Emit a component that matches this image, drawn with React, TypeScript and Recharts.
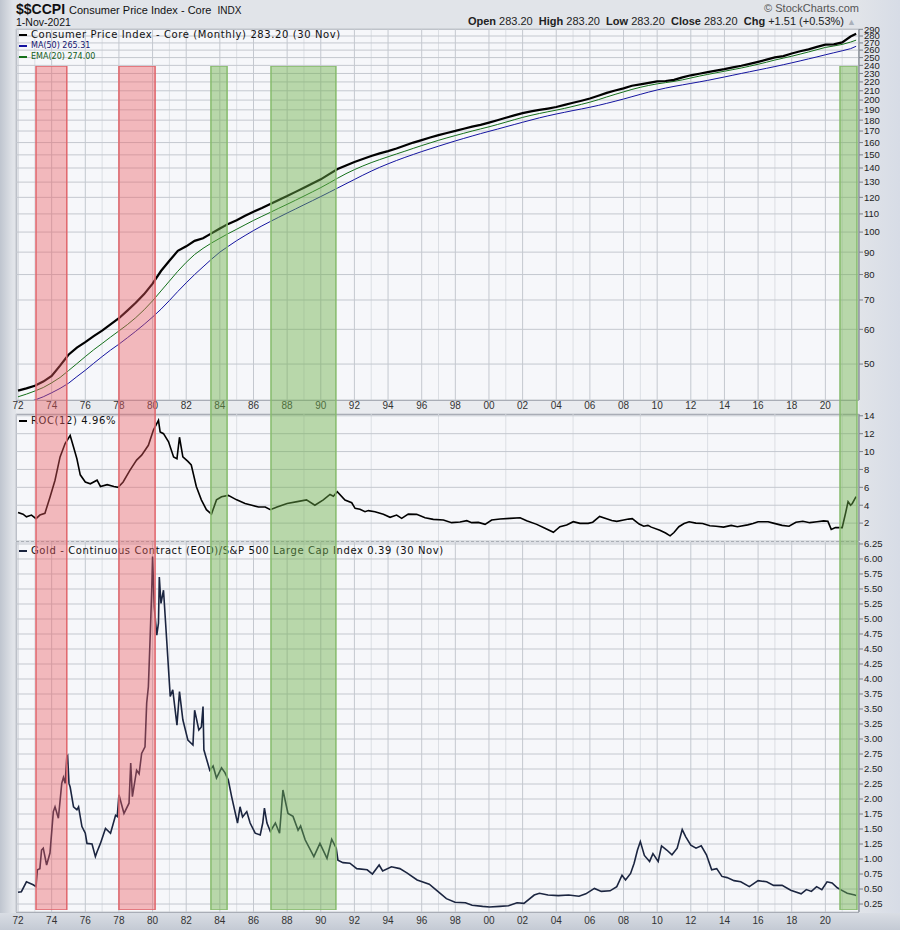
import React from 'react';
import {
  LineChart,
  Line,
  XAxis,
  YAxis,
  CartesianGrid,
  ReferenceArea,
} from 'recharts';

// ---- data read off the chart -------------------------------------------

// semi-annual points (Jan / Jul) for the core CPI panel
const cpiYears = [
  1972, 1972.5, 1973, 1973.5, 1974, 1974.5, 1975, 1975.5, 1976, 1976.5,
  1977, 1977.5, 1978, 1978.5, 1979, 1979.5, 1980, 1980.5, 1981, 1981.5,
  1982, 1982.5, 1983, 1983.5, 1984, 1984.5, 1985, 1985.5, 1986, 1986.5,
  1987, 1987.5, 1988, 1988.5, 1989, 1989.5, 1990, 1990.5, 1991, 1991.5,
  1992, 1992.5, 1993, 1993.5, 1994, 1994.5, 1995, 1995.5, 1996, 1996.5,
  1997, 1997.5, 1998, 1998.5, 1999, 1999.5, 2000, 2000.5, 2001, 2001.5,
  2002, 2002.5, 2003, 2003.5, 2004, 2004.5, 2005, 2005.5, 2006, 2006.5,
  2007, 2007.5, 2008, 2008.5, 2009, 2009.5, 2010, 2010.5, 2011, 2011.5,
  2012, 2012.5, 2013, 2013.5, 2014, 2014.5, 2015, 2015.5, 2016, 2016.5,
  2017, 2017.5, 2018, 2018.5, 2019, 2019.5, 2020, 2020.5, 2021, 2021.5,
  2021.83,
];

const cpiValues = [
  43.5, 44.0, 44.6, 45.6, 47.0, 49.6, 52.5, 54.5, 56.1, 57.9,
  59.6, 61.6, 63.6, 66.2, 69.0, 72.2, 76.3, 81.5, 86.0, 90.6,
  92.8, 95.5, 96.8, 99.3, 101.9, 104.4, 106.4, 108.9, 111.3, 113.5,
  115.9, 118.4, 120.8, 123.5, 126.2, 129.1, 131.9, 135.6, 139.2, 141.9,
  144.5, 146.8, 149.1, 151.2, 153.0, 155.1, 157.5, 160.0, 162.1, 164.3,
  166.4, 168.3, 170.1, 172.1, 174.0, 175.6, 177.7, 179.9, 182.3, 184.6,
  186.8, 188.5, 189.9, 191.3, 192.9, 195.0, 197.2, 199.3, 201.6, 204.6,
  207.7, 210.3, 212.7, 215.6, 217.2, 219.0, 220.6, 221.1, 222.4, 225.3,
  227.8, 229.7, 231.7, 233.5, 235.3, 237.5, 239.5, 241.9, 244.5, 247.3,
  250.3, 252.0, 255.4, 258.4, 261.1, 264.4, 267.5, 268.0, 270.8, 279.3,
  283.2,
];

const ma50Values = [
  40.2, 40.8, 41.4, 42.1, 43.0, 44.0, 45.2, 46.8, 48.4, 50.2,
  52.0, 53.8, 55.5, 57.4, 59.4, 61.6, 64.0, 66.7, 69.8, 73.2,
  76.6, 80.0, 83.3, 86.7, 90.0, 92.8, 95.6, 98.2, 100.8, 103.3,
  105.7, 108.1, 110.5, 112.9, 115.4, 117.9, 120.5, 123.2, 126.0, 128.9,
  131.8, 134.8, 137.7, 140.5, 143.1, 145.6, 148.0, 150.3, 152.6, 154.8,
  157.0, 159.2, 161.4, 163.5, 165.6, 167.7, 169.7, 171.7, 173.8, 175.9,
  178.0, 180.1, 182.2, 184.1, 185.9, 187.6, 189.3, 190.9, 192.6, 194.5,
  196.6, 198.8, 201.1, 203.6, 206.1, 208.6, 210.9, 213.0, 214.9, 216.6,
  218.3, 220.0, 221.8, 223.8, 225.8, 227.9, 230.0, 232.1, 234.2, 236.3,
  238.5, 240.8, 243.2, 245.7, 248.3, 250.9, 253.7, 256.4, 259.1, 262.0,
  265.3,
];

const ema20Values = [
  42.1, 42.7, 43.4, 44.2, 45.3, 46.6, 48.3, 50.1, 52.0, 53.9,
  55.7, 57.6, 59.5, 61.5, 63.8, 66.5, 69.7, 73.4, 77.3, 81.4,
  85.3, 88.9, 91.8, 94.4, 96.8, 99.2, 101.5, 103.9, 106.3, 108.6,
  110.9, 113.3, 115.7, 118.2, 120.8, 123.5, 126.3, 129.4, 132.7, 135.9,
  138.8, 141.5, 144.0, 146.3, 148.5, 150.7, 152.9, 155.2, 157.5, 159.7,
  161.9, 164.0, 166.0, 168.0, 170.0, 171.9, 173.8, 175.9, 178.1, 180.4,
  182.6, 184.6, 186.4, 188.1, 189.7, 191.5, 193.5, 195.6, 197.8, 200.4,
  203.3, 206.1, 208.8, 211.5, 213.9, 216.0, 217.8, 219.2, 220.6, 222.4,
  224.6, 226.8, 228.8, 230.8, 232.7, 234.7, 236.7, 239.0, 241.4, 244.0,
  246.8, 249.3, 251.8, 254.6, 257.5, 260.6, 263.7, 265.7, 267.9, 271.2,
  274.0,
];

// ROC(12) of core CPI, %
const rocYears = [
  1972.0, 1972.3, 1972.5, 1972.8, 1973.07, 1973.3, 1973.6, 1973.9, 1974.2, 1974.5,
  1974.8, 1975.1, 1975.3, 1975.5, 1975.7, 1976.0, 1976.3, 1976.7, 1976.9, 1977.3,
  1977.7, 1977.95, 1978.25, 1978.65, 1979.05, 1979.35, 1979.75, 1980.05, 1980.35, 1980.45,
  1980.65, 1980.95, 1981.25, 1981.45, 1981.6, 1981.8, 1982.1, 1982.3, 1982.6, 1982.9,
  1983.2, 1983.5, 1983.8, 1984.1, 1984.5, 1985.0, 1985.5, 1985.9, 1986.3, 1986.7,
  1987.0, 1987.4, 1988.0, 1988.6, 1989.15, 1989.65, 1990.15, 1990.55, 1990.75, 1990.98,
  1991.44, 1991.84, 1992.04, 1992.33, 1992.63, 1992.83, 1993.22, 1993.72, 1994.12, 1994.51,
  1994.81, 1995.2, 1995.7, 1996.2, 1996.69, 1997.29, 1997.78, 1998.28, 1998.68, 1998.97,
  1999.37, 1999.77, 2000.16, 2000.66, 2001.25, 2001.85, 2002.24, 2002.84, 2003.33, 2003.83,
  2004.22, 2004.62, 2005.01, 2005.41, 2005.9, 2006.17, 2006.58, 2006.99, 2007.3, 2007.6,
  2008.01, 2008.3, 2008.52, 2008.93, 2009.2, 2009.45, 2009.65, 2010.16, 2010.5, 2010.77,
  2011.0, 2011.29, 2011.6, 2011.9, 2012.3, 2012.7, 2013.13, 2013.5, 2013.95, 2014.4,
  2014.77, 2015.38, 2015.7, 2016.0, 2016.6, 2016.9, 2017.43, 2017.84, 2018.25, 2018.66,
  2019.07, 2019.5, 2019.9, 2020.15, 2020.35, 2020.6, 2021.0, 2021.2, 2021.35, 2021.5,
  2021.6, 2021.75, 2021.83,
];

const rocValues = [
  3.2, 3.0, 2.7, 2.9, 2.5, 2.9, 3.1, 4.9, 6.8, 9.4,
  10.9, 11.8, 10.5, 9.2, 7.4, 6.6, 6.4, 6.8, 6.1, 6.3,
  6.1, 6.0, 6.6, 7.9, 9.05, 9.6, 10.7, 12.4, 13.5, 12.2,
  12.0, 11.1, 9.4, 9.2, 11.6, 9.4, 8.9, 8.5, 6.1, 4.6,
  3.5, 3.0, 4.6, 4.95, 5.1, 4.6, 4.2, 4.0, 3.8, 3.8,
  3.5, 3.8, 4.2, 4.4, 4.6, 4.0, 4.6, 5.2, 5.0, 5.5,
  4.58, 4.28, 3.65, 3.54, 3.28, 3.4, 3.28, 2.98, 2.65, 2.9,
  2.53, 3.0, 2.98, 2.6, 2.42, 2.35, 2.05, 2.12, 2.27, 2.05,
  2.08, 1.86, 2.35, 2.46, 2.53, 2.6, 2.27, 1.86, 1.42, 0.97,
  1.6, 1.79, 2.16, 1.97, 1.97, 2.1, 2.75, 2.5, 2.3, 2.2,
  2.35, 2.45, 2.5, 1.9, 1.65, 1.75, 1.55, 1.2, 0.9, 0.58,
  0.95, 1.6, 1.95, 2.15, 2.0, 1.95, 1.7, 1.65, 1.55, 1.75,
  1.6, 1.8, 1.95, 2.15, 2.15, 2.0, 1.75, 1.65, 2.1, 2.2,
  2.05, 2.15, 2.25, 2.2, 1.3, 1.5, 1.5, 3.1, 4.4, 4.0,
  4.2, 4.7, 4.96,
];

// Gold / S&P 500 ratio
const ratioYears = [
  1972.0, 1972.2, 1972.5, 1972.9, 1973.07, 1973.15, 1973.3, 1973.4, 1973.5, 1973.7,
  1973.9, 1974.1, 1974.2, 1974.4, 1974.6, 1974.7, 1974.8, 1974.9, 1974.95, 1975.03,
  1975.1, 1975.3, 1975.5, 1975.6, 1975.8, 1976.0, 1976.1, 1976.4, 1976.6, 1976.7,
  1976.9, 1977.2, 1977.5, 1977.8, 1977.9, 1978.0, 1978.3, 1978.6, 1978.7, 1978.8,
  1979.05, 1979.2, 1979.35, 1979.55, 1979.65, 1979.75, 1979.85, 1979.95, 1980.0, 1980.1,
  1980.25, 1980.35, 1980.4, 1980.5, 1980.65, 1980.85, 1981.05, 1981.2, 1981.45, 1981.6,
  1981.8, 1982.1, 1982.4, 1982.5, 1982.75, 1982.9, 1983.0, 1983.05, 1983.4, 1983.6,
  1983.8, 1984.1, 1984.3, 1984.5, 1984.7, 1985.05, 1985.2, 1985.35, 1985.6, 1985.8,
  1986.1, 1986.4, 1986.55, 1986.65, 1986.8, 1987.0, 1987.3, 1987.55, 1987.75, 1988.05,
  1988.35, 1988.65, 1988.8, 1989.07, 1989.59, 1989.95, 1990.37, 1990.65, 1990.92, 1991.02,
  1991.32, 1991.73, 1992.14, 1992.76, 1993.07, 1993.47, 1993.68, 1994.2, 1994.7, 1995.12,
  1995.73, 1996.45, 1996.96, 1997.47, 1997.98, 1998.6, 1999.0, 1999.62, 2000.03, 2000.64,
  2001.16, 2001.67, 2002.08, 2002.69, 2003.0, 2003.51, 2004.12, 2004.74, 2005.35, 2005.76,
  2006.27, 2006.68, 2007.2, 2007.6, 2007.91, 2008.12, 2008.42, 2008.63, 2008.83, 2009.0,
  2009.24, 2009.55, 2009.75, 2010.06, 2010.26, 2010.57, 2010.88, 2011.19, 2011.49, 2011.7,
  2012.0, 2012.31, 2012.62, 2012.93, 2013.24, 2013.54, 2013.85, 2014.16, 2014.57, 2014.97,
  2015.48, 2016.0, 2016.51, 2016.92, 2017.43, 2017.94, 2018.56, 2018.87, 2019.17, 2019.48,
  2019.79, 2020.1, 2020.4, 2020.71, 2020.9, 2021.3, 2021.75, 2021.83,
];

const ratioValues = [
  0.445, 0.455, 0.62, 0.57, 0.54, 0.82, 0.84, 1.15, 1.18, 0.9,
  1.1, 1.79, 1.87, 1.68, 2.26, 2.36, 2.26, 2.7, 2.72, 2.26,
  2.2, 1.87, 1.82, 1.87, 1.54, 1.43, 1.26, 1.25, 1.04, 1.12,
  1.26, 1.51, 1.43, 1.73, 1.71, 2.07, 1.76, 1.93, 2.6, 2.04,
  2.48, 2.42, 2.76, 2.87, 3.6, 3.87, 4.65, 5.48, 6.04, 5.2,
  4.73, 4.93, 5.7, 5.26, 5.48, 4.6, 3.71, 3.82, 3.23, 3.79,
  3.32, 2.98, 2.9, 3.48, 3.15, 3.2, 3.54, 2.82, 2.48, 2.55,
  2.35, 2.52, 2.44, 2.32, 2.04, 1.6, 1.87, 1.7, 1.79, 1.6,
  1.43, 1.4, 1.6, 1.85, 1.6, 1.46, 1.6, 1.43, 2.15, 1.76,
  1.71, 1.48, 1.55, 1.32, 1.04, 1.26, 1.01, 1.33, 1.18, 0.98,
  0.94, 0.93, 0.84, 0.82, 0.75, 0.9, 0.8, 0.87, 0.84, 0.77,
  0.65, 0.58, 0.46, 0.34, 0.28, 0.27, 0.23, 0.21, 0.2, 0.21,
  0.22, 0.27, 0.26, 0.4, 0.43, 0.4, 0.39, 0.4, 0.38, 0.42,
  0.51, 0.46, 0.47, 0.54, 0.73, 0.65, 0.76, 0.93, 1.15, 1.29,
  1.06, 0.96, 1.09, 0.96, 1.22, 1.15, 1.07, 1.18, 1.49, 1.37,
  1.23, 1.18, 1.22, 1.07, 0.82, 0.84, 0.71, 0.69, 0.64, 0.62,
  0.54, 0.64, 0.62, 0.56, 0.56, 0.48, 0.42, 0.49, 0.46, 0.54,
  0.49, 0.62, 0.6, 0.52, 0.49, 0.43, 0.4, 0.39,
];

// shaded periods (red = rising inflation, green = gold underperforming)
const bands = [
  { from: 1973.07, to: 1974.9, kind: 'red' },
  { from: 1978.0, to: 1980.15, kind: 'red' },
  { from: 1983.47, to: 1984.43, kind: 'green' },
  { from: 1987.04, to: 1990.9, kind: 'green' },
  { from: 2020.87, to: 2021.88, kind: 'green' },
];

const evenYears = [
  1972, 1974, 1976, 1978, 1980, 1982, 1984, 1986, 1988, 1990, 1992, 1994, 1996,
  1998, 2000, 2002, 2004, 2006, 2008, 2010, 2012, 2014, 2016, 2018, 2020,
];
const oddYears = [
  1973, 1975, 1977, 1979, 1981, 1983, 1985, 1987, 1989, 1991, 1993, 1995, 1997,
  1999, 2001, 2003, 2005, 2007, 2009, 2011, 2013, 2015, 2017, 2019, 2021,
];

const cpiTicks = [
  50, 60, 70, 80, 90, 100, 110, 120, 130, 140, 150, 160, 170, 180, 190, 200,
  210, 220, 230, 240, 250, 260, 270, 280, 290,
];
const rocTicks = [2, 4, 6, 8, 10, 12, 14];
const ratioTicks = [
  0.25, 0.5, 0.75, 1, 1.25, 1.5, 1.75, 2, 2.25, 2.5, 2.75, 3, 3.25, 3.5, 3.75,
  4, 4.25, 4.5, 4.75, 5, 5.25, 5.5, 5.75, 6, 6.25,
];

const cpiRows = cpiYears.map((t, i) => ({
  t,
  cpi: cpiValues[i],
  ma: ma50Values[i],
  ema: ema20Values[i],
}));
const rocRows = rocYears.map((t, i) => ({ t, roc: rocValues[i] }));
const ratioRows = ratioYears.map((t, i) => ({ t, ratio: ratioValues[i] }));

// ---- styling -------------------------------------------------------------

const X_DOMAIN: [number, number] = [1971.88, 2022];
const AXIS_FONT = "'Liberation Sans', Arial, sans-serif";
const LEGEND_FONT = "'DejaVu Sans', Verdana, sans-serif";
const GRID_DARK = '#c4c8cf';
const GRID_LIGHT = '#dcdfe4';
const AXIS_COLOR = '#7b808a';

const yearLabel = (y: number) => String(y).slice(2);

const yTick = { fontSize: 9.5, fill: '#222', fontFamily: AXIS_FONT };
const xTick = { fontSize: 10, fill: '#333', fontFamily: AXIS_FONT };

const panelBox = (top: number, height: number, dashedTop = false): React.CSSProperties => ({
  position: 'absolute',
  left: 16,
  top,
  width: 843,
  height,
  boxSizing: 'border-box',
  background: '#f6f7fa',
  border: '1px solid #8e939c',
  borderTop: dashedTop ? '1px dashed #8e939c' : '1px solid #8e939c',
});

const LegendRow = ({
  top,
  color,
  text,
  size = 10,
  textColor = '#111',
}: {
  top: number;
  color: string;
  text: string;
  size?: number;
  textColor?: string;
}) => (
  <div
    style={{
      position: 'absolute',
      left: 19,
      top,
      display: 'flex',
      alignItems: 'center',
      fontFamily: LEGEND_FONT,
      fontSize: size,
      lineHeight: 1,
      color: textColor,
      letterSpacing: size >= 10 ? 0.6 : 0,
      whiteSpace: 'nowrap',
    }}
  >
    <span style={{ display: 'inline-block', width: 8, height: 2.5, background: color, marginRight: 4 }} />
    {text}
  </div>
);

const App: React.FC = () => {
  return (
    <div
      style={{
        position: 'absolute',
        left: 0,
        top: 0,
        width: 900,
        height: 930,
        overflow: 'hidden',
        background:
          'linear-gradient(to right, #bfc5cf 0px, #e1e4e9 13px, #e1e4e9 858px, #d7dce6 900px)',
      }}
    >
      {/* header */}
      <div
        style={{
          position: 'absolute',
          left: 16,
          top: 1,
          display: 'flex',
          alignItems: 'baseline',
          fontFamily: AXIS_FONT,
          color: '#111',
          whiteSpace: 'nowrap',
        }}
      >
        <span style={{ fontSize: 14, fontWeight: 700 }}>$$CCPI</span>
        <span style={{ fontSize: 11, marginLeft: 4 }}>Consumer Price Index - Core</span>
        <span style={{ fontSize: 10, marginLeft: 6 }}>INDX</span>
      </div>
      <div style={{ position: 'absolute', left: 16, top: 16, fontFamily: AXIS_FONT, fontSize: 10.5, color: '#111' }}>
        1-Nov-2021
      </div>
      <div
        style={{
          position: 'absolute',
          right: 41,
          top: 2,
          fontFamily: AXIS_FONT,
          fontSize: 11,
          color: '#555',
        }}
      >
        © StockCharts.com
      </div>
      <div
        style={{
          position: 'absolute',
          right: 44,
          top: 15,
          fontFamily: AXIS_FONT,
          fontSize: 11,
          color: '#222',
          whiteSpace: 'nowrap',
        }}
      >
        <b>Open</b> 283.20&nbsp; <b>High</b> 283.20&nbsp; <b>Low</b> 283.20&nbsp; <b>Close</b> 283.20&nbsp;{' '}
        <b>Chg</b> +1.51 (+0.53%) <span style={{ color: '#aab0ba', fontSize: 9 }}>▲</span>
      </div>

      {/* panel backgrounds */}
      <div style={panelBox(29, 372)} />
      <div style={{ position: 'absolute', left: 16, top: 401, width: 843, height: 13, background: '#e9ebef' }} />
      <div style={panelBox(414, 128)} />
      <div style={panelBox(541, 372, true)} />
      <div
        style={{
          position: 'absolute',
          left: 0,
          top: 913,
          width: 900,
          height: 17,
          background: 'linear-gradient(to bottom, #d9dde4, #c4cad4)',
        }}
      />

      {/* core CPI panel */}
      <div style={{ position: 'absolute', left: 0, top: 19 }}>
        <LineChart width={900} height={395} data={cpiRows} margin={{ top: 10, right: 0, bottom: 0, left: 16 }}>
          <XAxis xAxisId="odd" dataKey="t" type="number" domain={X_DOMAIN} allowDataOverflow ticks={oddYears} hide />
          <CartesianGrid xAxisId="odd" horizontal={false} stroke={GRID_LIGHT} />
          <CartesianGrid stroke={GRID_DARK} />
          <XAxis
            dataKey="t"
            type="number"
            domain={X_DOMAIN}
            allowDataOverflow
            ticks={evenYears}
            interval={0}
            tickFormatter={yearLabel}
            height={14}
            axisLine={false}
            tickLine={false}
            tickSize={2}
            tickMargin={0}
            tick={xTick}
          />
          <YAxis
            orientation="right"
            scale="log"
            domain={[41.4, 290.5]}
            allowDataOverflow
            ticks={cpiTicks}
            interval={0}
            width={41}
            tick={yTick}
            tickSize={4}
            tickMargin={1}
            axisLine={{ stroke: AXIS_COLOR }}
            tickLine={{ stroke: AXIS_COLOR }}
          />
          <Line dataKey="ma" stroke="#1414a0" strokeWidth={1} dot={false} isAnimationActive={false} />
          <Line dataKey="ema" stroke="#14701a" strokeWidth={1} dot={false} isAnimationActive={false} />
          <Line dataKey="cpi" stroke="#000" strokeWidth={2.2} dot={false} isAnimationActive={false} />
        </LineChart>
      </div>

      {/* ROC panel */}
      <div style={{ position: 'absolute', left: 0, top: 406 }}>
        <LineChart width={900} height={135} data={rocRows} margin={{ top: 8, right: 0, bottom: 0, left: 16 }}>
          <XAxis xAxisId="odd" dataKey="t" type="number" domain={X_DOMAIN} allowDataOverflow ticks={oddYears} hide />
          <CartesianGrid xAxisId="odd" horizontal={false} stroke={GRID_LIGHT} />
          <CartesianGrid stroke={GRID_DARK} />
          <XAxis
            dataKey="t"
            type="number"
            domain={X_DOMAIN}
            allowDataOverflow
            ticks={evenYears}
            interval={0}
            height={0}
            tick={false}
            axisLine={false}
            tickLine={false}
          />
          <YAxis
            orientation="right"
            domain={[0, 14.2]}
            allowDataOverflow
            ticks={rocTicks}
            interval={0}
            width={41}
            tick={yTick}
            tickSize={4}
            tickMargin={1}
            axisLine={{ stroke: AXIS_COLOR }}
            tickLine={{ stroke: AXIS_COLOR }}
          />
          <Line dataKey="roc" stroke="#000" strokeWidth={1.6} dot={false} isAnimationActive={false} />
        </LineChart>
      </div>

      {/* Gold / S&P 500 panel */}
      <div style={{ position: 'absolute', left: 0, top: 536 }}>
        <LineChart width={900} height={394} data={ratioRows} margin={{ top: 6, right: 0, bottom: 0, left: 16 }}>
          <XAxis xAxisId="odd" dataKey="t" type="number" domain={X_DOMAIN} allowDataOverflow ticks={oddYears} hide />
          <CartesianGrid xAxisId="odd" horizontal={false} stroke={GRID_LIGHT} />
          <CartesianGrid stroke={GRID_DARK} />
          <XAxis
            dataKey="t"
            type="number"
            domain={X_DOMAIN}
            allowDataOverflow
            ticks={evenYears}
            interval={0}
            tickFormatter={yearLabel}
            height={18}
            axisLine={false}
            tickLine={false}
            tickSize={5}
            tickMargin={0}
            tick={xTick}
          />
          <YAxis
            orientation="right"
            domain={[0.117, 6.283]}
            allowDataOverflow
            ticks={ratioTicks}
            interval={0}
            tickFormatter={(v: number) => v.toFixed(2)}
            width={41}
            tick={yTick}
            tickSize={4}
            tickMargin={1}
            axisLine={{ stroke: AXIS_COLOR }}
            tickLine={{ stroke: AXIS_COLOR }}
          />
          <Line dataKey="ratio" stroke="#1b2540" strokeWidth={1.6} dot={false} isAnimationActive={false} />
        </LineChart>
      </div>

      {/* legends */}
      <LegendRow top={30} color="#000" text="Consumer Price Index - Core (Monthly) 283.20 (30 Nov)" />
      <LegendRow top={42} color="#1414a0" text="MA(50) 265.31" size={8} textColor="#14146e" />
      <LegendRow top={53} color="#14701a" text="EMA(20) 274.00" size={8} textColor="#14601a" />
      <LegendRow top={416} color="#000" text="ROC(12) 4.96%" />
      <LegendRow
        top={546}
        color="#1b2540"
        text="Gold - Continuous Contract (EOD)/S&P 500 Large Cap Index 0.39 (30 Nov)"
      />

      {/* shaded periods drawn over everything */}
      <div style={{ position: 'absolute', left: 0, top: 66, pointerEvents: 'none' }}>
        <LineChart width={900} height={844} data={rocRows} margin={{ top: 0, right: 41, bottom: 0, left: 16 }}>
          <XAxis dataKey="t" type="number" domain={X_DOMAIN} allowDataOverflow hide />
          <YAxis hide type="number" domain={[0, 1]} allowDataOverflow />
          <Line dataKey="roc" stroke="none" dot={false} activeDot={false} isAnimationActive={false} />
          {bands.map((b) => (
            <ReferenceArea
              key={b.from}
              x1={b.from}
              x2={b.to}
              y1={0}
              y2={1}
              fill={b.kind === 'red' ? '#ee5a60' : '#6db04a'}
              fillOpacity={b.kind === 'red' ? 0.4 : 0.45}
              stroke={b.kind === 'red' ? '#e0666c' : '#86bb6c'}
              strokeWidth={1.5}
              ifOverflow="visible"
            />
          ))}
        </LineChart>
      </div>
    </div>
  );
};

export default App;
